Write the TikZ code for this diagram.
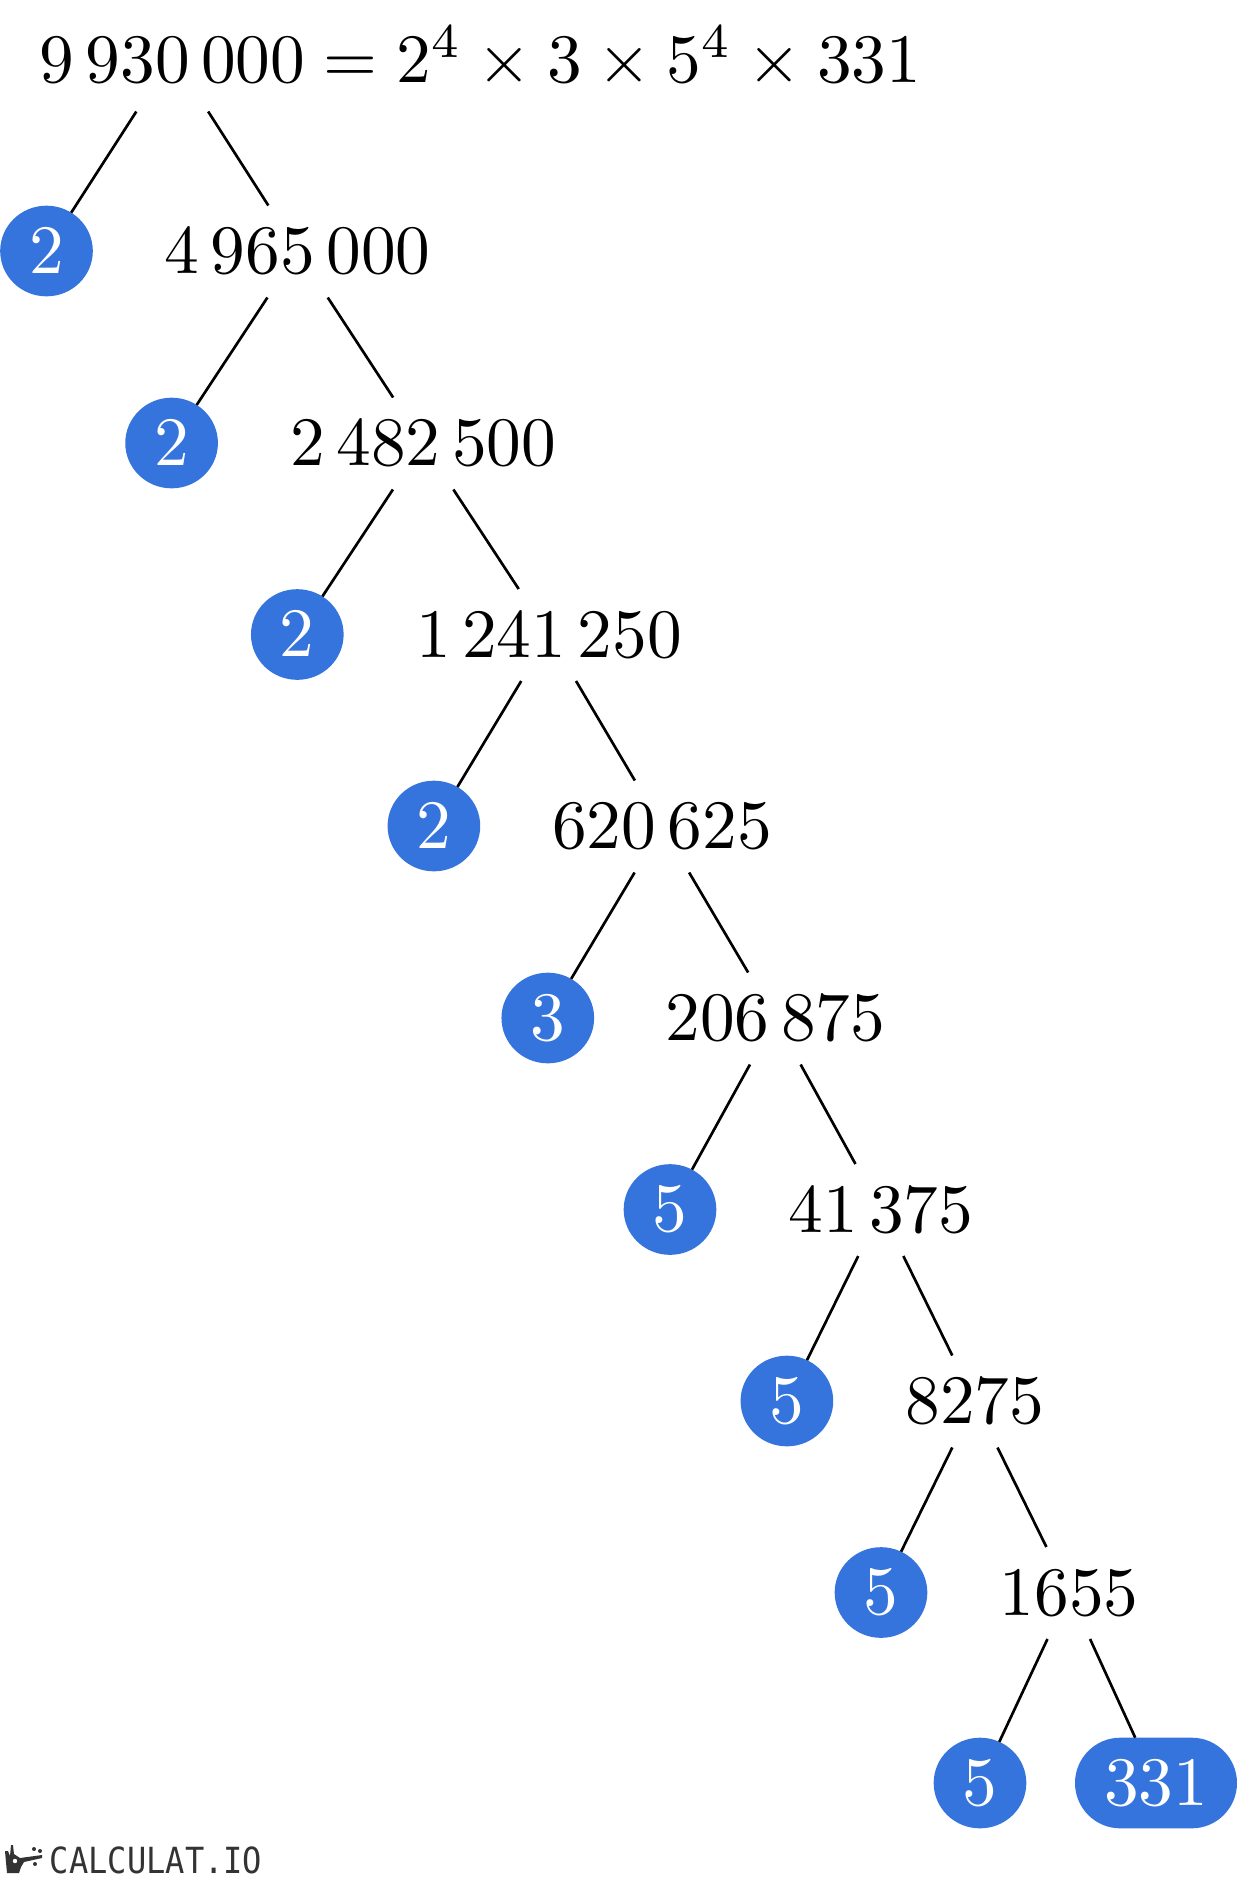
\documentclass[tikz,border=0pt]{standalone}
\usepackage{graphicx}
\usepackage{fontspec}
\newfontfamily\logofont{DejaVu Sans Mono}
\usetikzlibrary{shapes.misc,shapes.geometric}
\definecolor{factorblue}{HTML}{3574DC}
\definecolor{logogray}{HTML}{333333}
\newcommand\Dg[1]{\scalebox{5.2}{$#1$}}
\tikzset{
  numbox/.style={rectangle,inner sep=0pt,outer sep=0pt,minimum height=69pt,text=black},
  rootbox/.style={rectangle,inner sep=0pt,outer sep=0pt,minimum height=84pt,text=black},
  primebox/.style={ellipse,fill=factorblue,text=white,inner sep=0pt,outer sep=0pt,minimum width=69.5pt,minimum height=68pt},
  lastbox/.style={rounded rectangle,fill=factorblue,text=white,inner sep=0pt,outer sep=0pt,minimum width=121.5pt,minimum height=68pt},
  branch/.style={draw=black,line width=2pt},
}
\begin{document}
\begin{tikzpicture}[x=0.75pt,y=-0.75pt]
\useasboundingbox (0,0) rectangle (1237,1879);
% root
\node[rootbox] (r) at (172.4,55.5) {\rule{0pt}{40.25pt}\Dg{9\,930\,000}};
\node[inner sep=0pt,outer sep=0pt,anchor=base west] (eq) at ([xshift=-0.75pt]r.base east) {\Dg{{}={}2^4\times 3\times 5^4\times 331}};
% numbers
\node[numbox] (n1) at (297.7,251.5) {\Dg{4\,965\,000}};
\node[numbox] (n2) at (423.2,443.5) {\Dg{2\,482\,500}};
\node[numbox] (n3) at (548.9,635) {\Dg{1\,241\,250}};
\node[numbox] (n4) at (662,826.5) {\Dg{620\,625}};
\node[numbox] (n5) at (775.3,1018.5) {\Dg{206\,875}};
\node[numbox] (n6) at (880.8,1210) {\Dg{41\,375}};
\node[numbox] (n7) at (974.9,1401.5) {\Dg{8275}};
\node[numbox] (n8) at (1069,1593) {\Dg{1655}};
% primes
\node[primebox] (p1) at (46.5,251) {\Dg{2}};
\node[primebox] (p2) at (171.6,443) {\Dg{2}};
\node[primebox] (p3) at (297.3,634.5) {\Dg{2}};
\node[primebox] (p4) at (433.9,826) {\Dg{2}};
\node[primebox] (p5) at (547.8,1018) {\Dg{3}};
\node[primebox] (p6) at (670,1209.5) {\Dg{5}};
\node[primebox] (p7) at (786.9,1401) {\Dg{5}};
\node[primebox] (p8) at (881,1592.5) {\Dg{5}};
\node[primebox] (p9) at (980,1783) {\Dg{5}};
\node[lastbox] (p10) at (1156,1783) {\Dg{331}};
% connectors
\draw[branch] (r) -- (p1);
\draw[branch] (r) -- (n1);
\draw[branch] (n1) -- (p2);
\draw[branch] (n1) -- (n2);
\draw[branch] (n2) -- (p3);
\draw[branch] (n2) -- (n3);
\draw[branch] (n3) -- (p4);
\draw[branch] (n3) -- (n4);
\draw[branch] (n4) -- (p5);
\draw[branch] (n4) -- (n5);
\draw[branch] (n5) -- (p6);
\draw[branch] (n5) -- (n6);
\draw[branch] (n6) -- (p7);
\draw[branch] (n6) -- (n7);
\draw[branch] (n7) -- (p8);
\draw[branch] (n7) -- (n8);
\draw[branch] (n8) -- (p9);
\draw[branch] (n8) -- (p10);
% logo
\fill[logogray] (7,1873) -- (6,1862) -- (5,1851) -- (8,1851) -- (10,1856) -- (11,1845) -- (13,1845) -- (14,1854) -- (20,1858) -- (42,1855) -- (42,1858) -- (24,1862) -- (21,1867) -- (19,1873) -- cycle;
\fill[white] (15,1861) circle (2.2);
\fill[logogray] (34,1849) circle (2) (40,1851) circle (2) (35,1864) circle (2);
\node[inner sep=0pt,outer sep=0pt,anchor=base west,text=logogray] (logo) at (50,1873) {\scalebox{.89}[1]{\logofont\fontsize{27}{30}\selectfont CALCULAT.IO}};
\end{tikzpicture}
\end{document}
